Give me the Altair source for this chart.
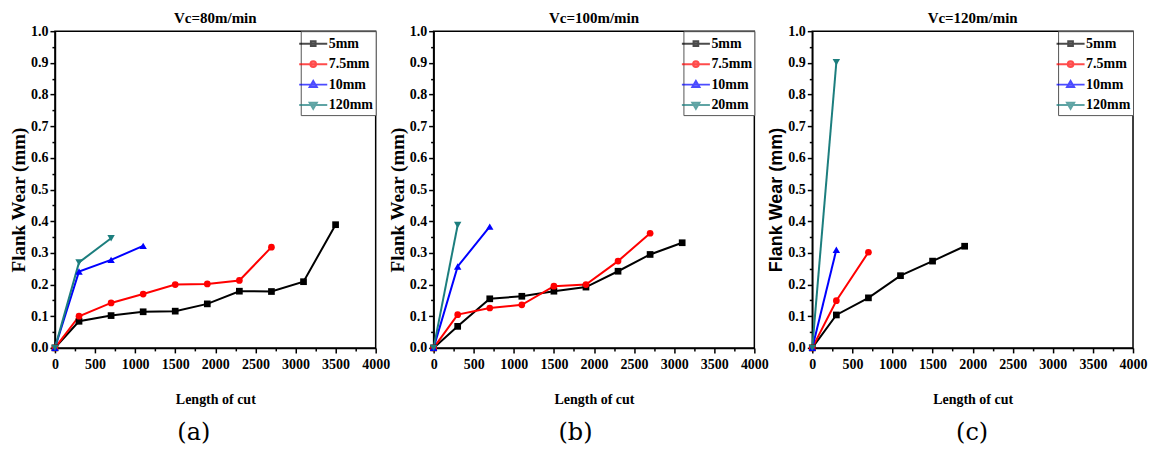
import altair as alt
import pandas as pd

# ---------------- data ----------------
cut_length = [0, 300, 700, 1100, 1500, 1900, 2300, 2700, 3100, 3500]

panel_titles = ["Vc=80m/min", "Vc=100m/min", "Vc=120m/min"]
panel_tags = ["(a)", "(b)", "(c)"]

series_a = ["5mm", "7.5mm", "10mm", "120mm"]
series_b = ["5mm", "7.5mm", "10mm", "20mm"]
series_c = ["5mm", "7.5mm", "10mm", "120mm"]

# Vc = 80 m/min
wear_a_5 = [0.0, 0.084, 0.102, 0.114, 0.116, 0.139, 0.179, 0.178, 0.209, 0.389]
wear_a_75 = [0.0, 0.100, 0.142, 0.170, 0.200, 0.202, 0.213, 0.318]
wear_a_10 = [0.0, 0.241, 0.278, 0.322]
wear_a_120 = [0.0, 0.270, 0.346]

# Vc = 100 m/min
wear_b_5 = [0.0, 0.068, 0.155, 0.163, 0.179, 0.192, 0.242, 0.295, 0.332]
wear_b_75 = [0.0, 0.105, 0.126, 0.136, 0.195, 0.200, 0.274, 0.362]
wear_b_10 = [0.0, 0.257, 0.383]
wear_b_20 = [0.0, 0.388]

# Vc = 120 m/min
wear_c_5 = [0.0, 0.104, 0.158, 0.228, 0.274, 0.321]
wear_c_75 = [0.0, 0.149, 0.302]
wear_c_10 = [0.0, 0.310]
wear_c_120 = [0.0, 0.902]

# ---------------- style ----------------
colors = ["#000000", "#ff0000", "#0000ff", "#1c7e7e"]
markers = ["square", "circle", "triangle-up", "triangle-down"]
marker_sizes = [45, 45, 55, 55]
LINE = "M-1.5,0H1.5"
legend_paths = [
    LINE + "M-0.25,-0.25H0.25V0.25H-0.25Z",
    LINE + "M-0.3,0A0.3,0.3,0,1,0,0.3,0A0.3,0.3,0,1,0,-0.3,0Z",
    LINE + "M0,-0.4L0.38,0.25L-0.38,0.25Z",
    LINE + "M0,0.4L0.38,-0.25L-0.38,-0.25Z",
]

SERIF = "Liberation Serif"
W, H = 321, 317


def panel_frame(series, wear_lists):
    rows = []
    for name, wear in zip(series, wear_lists):
        for x, w in zip(cut_length, wear):
            rows.append({"series": name, "length": x, "wear": w})
    return pd.DataFrame(rows)


def make_panel(idx, series, wear_lists, ytitle_font, ytitle_size, tag_x):
    df = panel_frame(series, wear_lists)
    base = alt.Chart(df)

    x_major = "datum.value % 500 == 0"
    y_major = "round(datum.value * 100) % 10 == 0"
    x_axis = alt.Axis(
        title="Length of cut",
        titleFontSize=14,
        values=list(range(0, 4001, 250)),
        format="d",
        labelExpr=f"{x_major} ? datum.label : ''",
        labelOverlap=False,
        labelFlush=False,
        grid=False,
        tickSize={"condition": {"test": x_major, "value": 5}, "value": 3},
        labelPadding=5,
        titlePadding=21,
    )
    y_axis = alt.Axis(
        title="Flank Wear (mm)",
        titleFont=ytitle_font,
        titleFontSize=ytitle_size,
        titleY=H / 2 + 10,
        values=[round(i * 0.05, 2) for i in range(21)],
        format=".1f",
        labelExpr=f"{y_major} ? datum.label : ''",
        labelOverlap=False,
        labelFlush=False,
        grid=False,
        tickSize={"condition": {"test": y_major, "value": 5}, "value": 3},
        labelPadding=2,
        titlePadding=2,
    )
    xenc = alt.X("length:Q", scale=alt.Scale(domain=[0, 4000], nice=False, zero=False), axis=x_axis)
    yenc = alt.Y("wear:Q", scale=alt.Scale(domain=[0, 1], nice=False), axis=y_axis)
    # colour scale for the drawn marks (domain order differs from the legend scales
    # so that its disabled legend is not merged with the visible one)
    cscale = alt.Scale(domain=series[::-1], range=colors[::-1])

    layers = [
        base.mark_line(strokeWidth=2).encode(
            x=xenc, y=yenc,
            color=alt.Color("series:N", scale=cscale, legend=None),
            order="length:Q",
        )
    ]
    for name, shp, sz in zip(series, markers, marker_sizes):
        layers.append(
            base.transform_filter(alt.datum.series == name)
            .mark_point(filled=True, size=sz, opacity=1, shape=shp)
            .encode(x=xenc, y=yenc, color=alt.Color("series:N", scale=cscale, legend=None))
        )

    leg = alt.Legend(
        title=None,
        orient="top-right",
        offset=0,
        padding=2,
        strokeColor="#555555",
        fillColor="white",
        labelFont=SERIF,
        labelFontWeight="bold",
        labelFontSize=14,
        labelColor="black",
        labelOffset=5,
        symbolSize=350,
        symbolStrokeWidth=2,
        rowPadding=2.5,
    )
    layers.append(
        base.transform_filter("datum.wear < 0").mark_point(filled=True).encode(
            x=xenc, y=yenc,
            fill=alt.Fill("series:N", scale=alt.Scale(domain=series, range=colors), legend=leg),
            stroke=alt.Stroke("series:N", scale=alt.Scale(domain=series, range=colors), legend=leg),
            shape=alt.Shape("series:N", scale=alt.Scale(domain=series, range=legend_paths), legend=leg),
        )
    )
    layers.append(
        alt.Chart(pd.DataFrame({"tag": [panel_tags[idx]]})).mark_text(
            font="DejaVu Serif", fontSize=24, align="center", baseline="middle", color="black"
        ).encode(x=alt.value(tag_x), y=alt.value(H + 85), text="tag:N")
    )

    return alt.layer(*layers).properties(
        width=W, height=H,
        title=alt.Title(panel_titles[idx], font=SERIF, fontSize=15, fontWeight="bold",
                        color="black", anchor="middle", offset=-2),
    )


pa = make_panel(0, series_a, [wear_a_5, wear_a_75, wear_a_10, wear_a_120], SERIF, 19, 139)
pb = make_panel(1, series_b, [wear_b_5, wear_b_75, wear_b_10, wear_b_20], SERIF, 19, 142)
pc = make_panel(2, series_c, [wear_c_5, wear_c_75, wear_c_10, wear_c_120], "Liberation Sans", 18, 160)

chart = (
    alt.hconcat(pa, pb, pc, spacing=58, bounds="flush")
    .resolve_scale(color="independent", fill="independent", stroke="independent",
                   shape="independent", x="independent", y="independent")
    .resolve_legend(fill="independent", stroke="independent", shape="independent")
    .properties(padding={"left": 0, "top": 2, "right": 0, "bottom": 0})
    .configure_view(stroke="black", strokeWidth=1.5)
    .configure_axis(
        labelFont=SERIF, labelFontWeight="bold", labelFontSize=14, labelColor="black",
        titleFontWeight="bold", titleColor="black", titleFont=SERIF,
        domainColor="black", domainWidth=1.5, tickColor="black", tickWidth=1.5,
    )
)

chart.save("out.html", embed_options={"renderer": "svg", "actions": False})
